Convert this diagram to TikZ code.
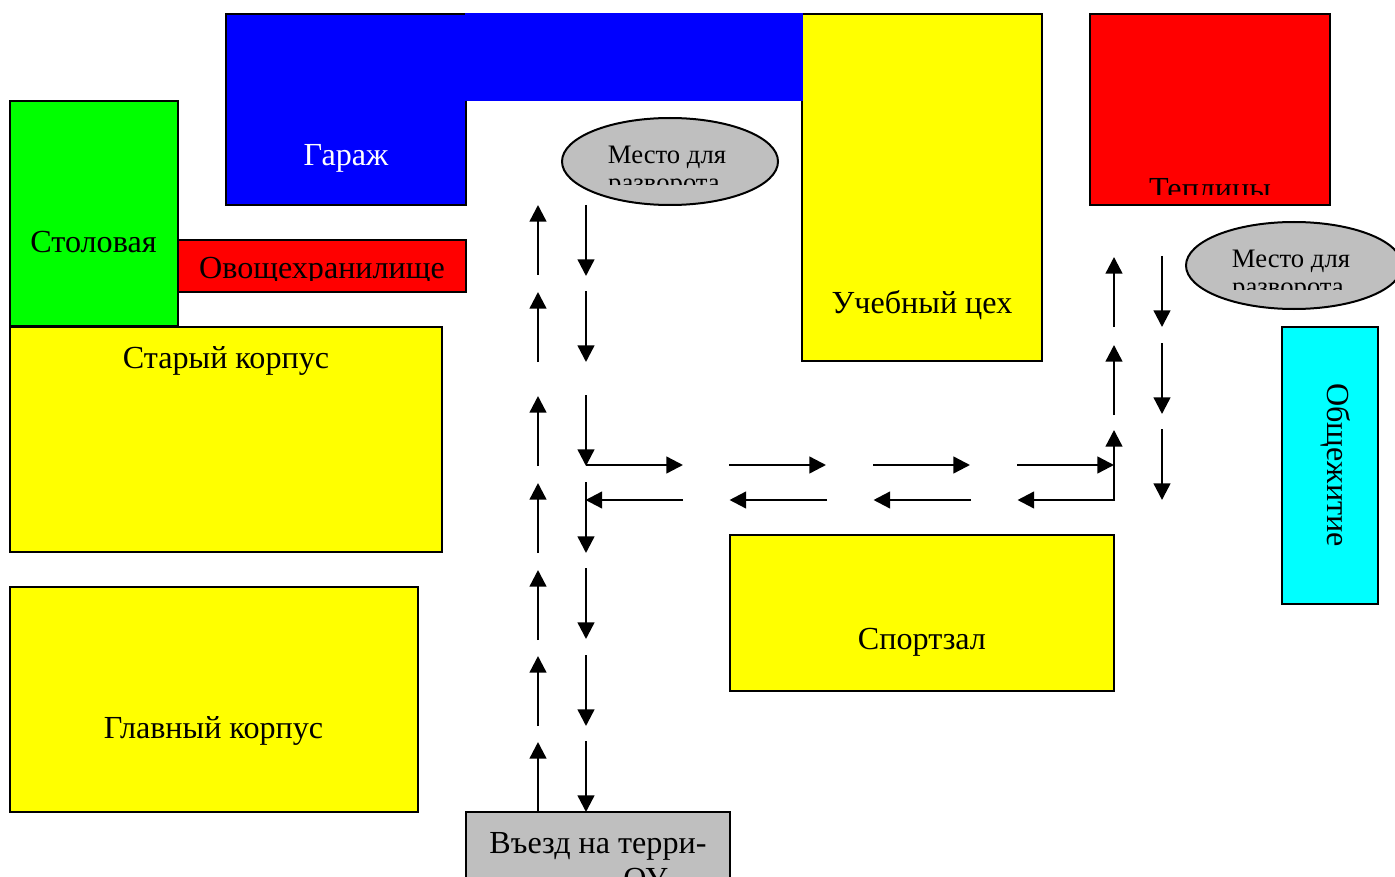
\documentclass[tikz,border=0pt]{standalone}
\usepackage{fontspec}
\setmainfont{Liberation Serif}
\usetikzlibrary{arrows.meta,shapes.geometric}
\tikzset{
	bld/.style={draw=black,line width=1.5pt},
	lbl/.style={anchor=base,inner sep=0pt,font=\fontsize{24.1}{28}\selectfont},
	smalllbl/.style={anchor=base,inner sep=0pt,font=\fontsize{20}{24}\selectfont},
	arw/.style={->,line width=1.8pt}
}
\begin{document}
\begin{tikzpicture}[x=.75pt,y=-.75pt,line join=miter,>={Triangle[length=12.5pt,width=12.5pt]}]
	\definecolor{silvergray}{rgb}{0.75, 0.75, 0.75}
	\definecolor{pureblue}{rgb}{0, 0, 1}
	\definecolor{puregreen}{rgb}{0, 1, 0}
	\definecolor{purered}{rgb}{1, 0, 0}
	\definecolor{pureyellow}{rgb}{1, 1, 0}
	\definecolor{purecyan}{rgb}{0, 1, 1}
	\clip(0,0)rectangle(1395,877);
	\fill[white](0,0)rectangle(1395,877);
	% buildings
	\draw[bld,fill=pureblue](226,14)rectangle(466,205);
	\draw[bld,fill=puregreen](10,101)rectangle(178,326);
	\draw[bld,fill=purered](178,240)rectangle(466,291.5);
	\draw[bld,fill=pureyellow](10,326.5)rectangle(442,552);
	\draw[bld,fill=pureyellow](10,587)rectangle(418,812);
	\draw[bld,fill=pureyellow](802,14)rectangle(1042,361);
	\draw[bld,fill=pureyellow](730,535)rectangle(1114,691);
	\draw[bld,fill=purered](1090,14)rectangle(1330,205);
	\draw[bld,fill=purecyan](1282,326.5)rectangle(1378,604);
	\draw[bld,fill=silvergray](466,812)rectangle(730,900);
	\fill[pureblue](465,13)rectangle(803,101.5);
	\draw[bld,fill=silvergray](670,161.5)ellipse[x radius=108,y radius=43.5];
	\draw[bld,fill=silvergray](1294,265.5)ellipse[x radius=108,y radius=43.5];
	% labels
	\node[lbl,text=white](garage)at(346,165.5){Гараж};
	\node[lbl](canteen)at(93.5,252.5){Столовая};
	\begin{scope}
		\clip(178,241)rectangle(466,281);
		\node[lbl](store)at(322,279){Овощехранилище};
	\end{scope}
	\node[lbl](oldblock)at(226,368){Старый корпус};
	\node[lbl](mainblock)at(213.5,738){Главный корпус};
	\node[lbl](workshop)at(922,313){Учебный цех};
	\node[lbl](gym)at(922,649){Спортзал};
	\node[lbl,rotate=-90,anchor=center](dorm)at(1336,465){Общежитие};
	\begin{scope}
		\clip(1090,170)rectangle(1330,195);
		\node[lbl](greenhouse)at(1210,200){Теплицы};
	\end{scope}
	\begin{scope}
		\clip(466,820)rectangle(730,871)(622,871)rectangle(730,876);
		\node[lbl](gate)at(598,853){Въезд на терри-};
		\node[lbl](gatetwo)at(598,889){торию ОУ};
	\end{scope}
	\foreach \n/\x/\y in {a/667/163.5,b/1291/267.5}{
		\begin{scope}
			\clip(\x-110,\y-25)rectangle(\x+110,\y+21.5);
			\node[smalllbl](turn\n)at(\x,\y){Место для};
			\node[smalllbl](turn\n two)at(\x-3,\y+28.5){разворота};
		\end{scope}
	}
	% up and down columns
	\foreach \j [count=\k] in {812,726,640,553,466,362,275}{
		\coordinate(ups\k)at(538,\j);
		\coordinate(upe\k)at(538,\j-70);
		\draw[arw](ups\k)--(upe\k);
	}
	\foreach \j [count=\k] in {205,291,395,482,568,655,741}{
		\coordinate(dns\k)at(586,\j);
		\coordinate(dne\k)at(586,\j+71);
		\draw[arw](dns\k)--(dne\k);
	}
	\foreach \j [count=\k] in {500,415,327}{
		\coordinate(rus\k)at(1114,\j);
		\coordinate(rue\k)at(1114,\j-70);
		\draw[arw](rus\k)--(rue\k);
	}
	\foreach \j [count=\k] in {256,343,429}{
		\coordinate(rds\k)at(1162,\j);
		\coordinate(rde\k)at(1162,\j+71);
		\draw[arw](rds\k)--(rde\k);
	}
	% road along the gym
	\foreach \i [count=\k] in {586,729,873,1017}{
		\coordinate(hrs\k)at(\i,465);
		\coordinate(hre\k)at(\i+97,465);
		\draw[arw](hrs\k)--(hre\k);
	}
	\foreach \i [count=\k] in {683,827,971,1115}{
		\coordinate(hls\k)at(\i,500);
		\coordinate(hle\k)at(\i-97.5,500);
		\draw[arw](hls\k)--(hle\k);
	}
\end{tikzpicture}
\end{document}
